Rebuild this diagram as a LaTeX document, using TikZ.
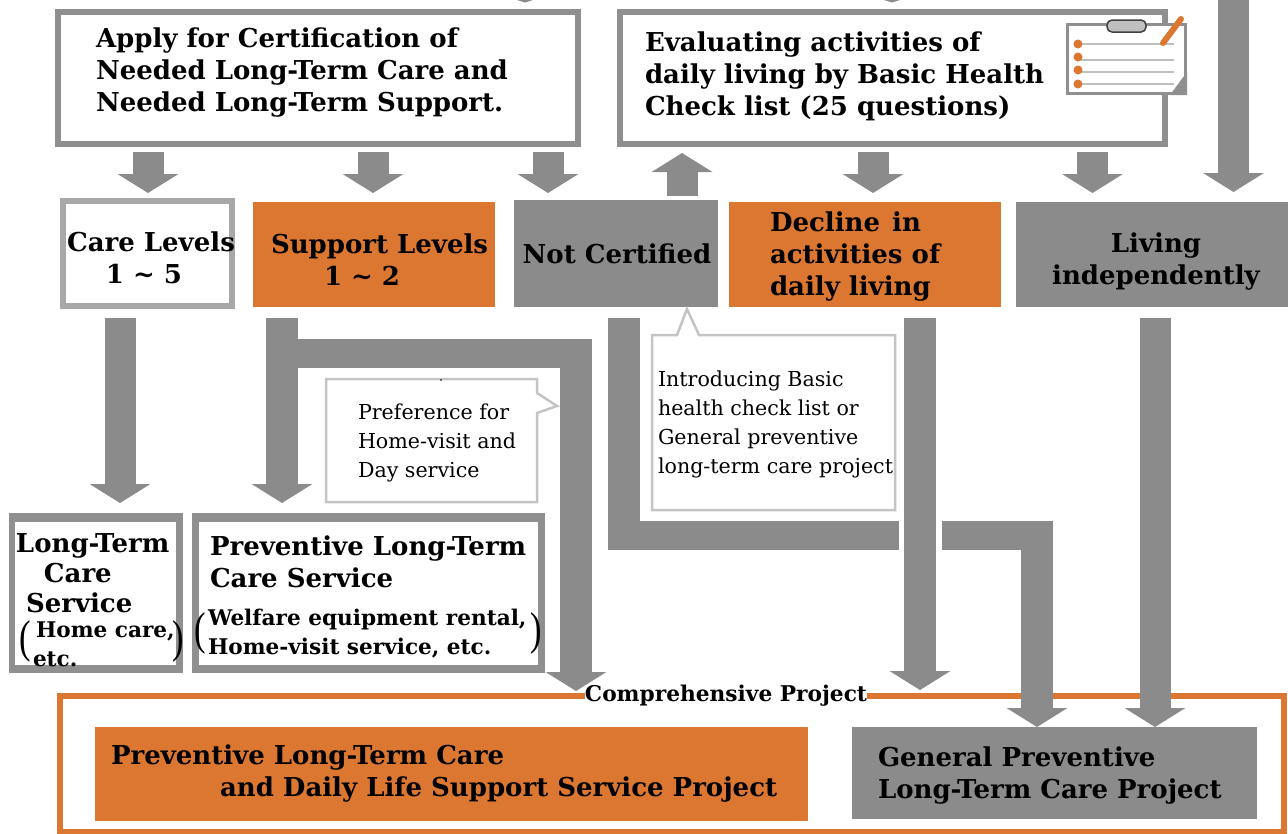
\documentclass[tikz,border=0pt]{standalone}
\usepackage{fontspec}
\setmainfont{DejaVu Serif}
\newfontfamily\parenfont{Liberation Serif}
\usetikzlibrary{arrows.meta}
\definecolor{bargray}{HTML}{8B8B8B}
\definecolor{framegray}{HTML}{8F8F8F}
\definecolor{lightframe}{HTML}{A8A8A8}
\definecolor{callgray}{HTML}{C4C4C4}
\definecolor{orangefill}{HTML}{DC7731}
\newcommand{\bigtxt}{\fontsize{26}{32}\selectfont\bfseries}
\newcommand{\midtxt}{\fontsize{21.6}{29}\selectfont\bfseries}
\newcommand{\smalltxt}{\fontsize{20.6}{29}\selectfont}
\tikzset{
  x=1pt,y=-1pt,
  heavy/.style={draw=framegray,line width=6pt,fill=white},
  flat/.style={inner sep=0pt,outer sep=0pt,text=black},
  blockshort/.style={draw=bargray,line width=31pt,-{Triangle[length=19pt,width=60pt,color=bargray]}},
  barpath/.style={draw=bargray,line width=29pt},
  words/.style={inner sep=0pt,outer sep=0pt,anchor=west,align=left,text=black,font=\bigtxt},
  centred/.style={flat,align=center,font=\bigtxt},
  midwords/.style={words,font=\midtxt},
  smallwords/.style={words,font=\smalltxt},
  brace/.style={flat,font=\parenfont\fontsize{46}{46}\selectfont,xscale=0.75},
  call/.style={draw=callgray,line width=2.5pt,fill=white,line join=miter},
}
\begin{document}
\begin{tikzpicture}
\useasboundingbox (0,0) rectangle (1288,833);
\fill[white] (0,0) rectangle (1288,833);

% cut-off arrow tips at the top edge
\fill[bargray] (517,0) -- (533,0) -- (525,2.5) -- cycle;
\fill[bargray] (884,0) -- (900,0) -- (892,2.5) -- cycle;

% top boxes
\path[heavy] (58,12) rectangle (578,144);
\path[heavy] (620,12) rectangle (1165,144);
% second row
\path[heavy,draw=lightframe] (63,201) rectangle (232,306);
\fill[orangefill] (253,202) rectangle (495,307);
\fill[bargray] (514,200) rectangle (718,307);
\fill[orangefill] (729,202) rectangle (1001,307);
\fill[bargray] (1016,202) rectangle (1288,307);
% service boxes
\fill[framegray] (9,513) rectangle (183,673);
\fill[white] (15,522) rectangle (176,665);
\fill[framegray] (192,513) rectangle (545,673);
\fill[white] (199,522) rectangle (538,665);
% comprehensive frame
\draw[orangefill,line width=6pt] (60,696) rectangle (1284,832);
\fill[orangefill] (95,727) rectangle (808,821);
\fill[bargray] (852,727) rectangle (1257,819);

% connector anchor points
\coordinate (a1) at (148,152); \coordinate (a1e) at (148,193);
\coordinate (a2) at (373,152); \coordinate (a2e) at (373,193);
\coordinate (a3) at (548,152); \coordinate (a3e) at (548,193);
\coordinate (u1) at (682,196); \coordinate (u1e) at (682,153);
\coordinate (a4) at (873,152); \coordinate (a4e) at (873,193);
\coordinate (a5) at (1092.5,152); \coordinate (a5e) at (1092.5,193);
\coordinate (a6) at (1233.5,0); \coordinate (a6e) at (1233.5,192);
\foreach \p/\q in {a1/a1e,a2/a2e,a3/a3e,u1/u1e,a4/a4e,a5/a5e,a6/a6e}
  \draw[blockshort] (\p) -- (\q);

% level-to-service arrows
\coordinate (c1) at (120,318); \coordinate (c1e) at (120,503);
\draw[blockshort] (c1) -- (c1e);
\coordinate (s1) at (282,318); \coordinate (s1e) at (282,503);
\draw[blockshort,line width=32pt] (s1) -- (s1e);
% support elbow
\coordinate (s2) at (282,353.5); \coordinate (s2c) at (592,353.5);
\coordinate (s2v) at (576,339); \coordinate (s2e) at (576,691);
\draw[barpath] (s2) -- (s2c);
\draw[blockshort,line width=32pt] (s2v) -- (s2e);
% not certified elbow, broken under the decline arrow
\coordinate (n1) at (623.5,318); \coordinate (n1c) at (623.5,550);
\coordinate (n1m) at (607.5,535.5); \coordinate (n1e) at (899,535.5);
\draw[barpath,line width=32pt] (n1) -- (n1c);
\draw[barpath] (n1m) -- (n1e);
\coordinate (n2) at (942,535.5); \coordinate (n2c) at (1053,535.5);
\coordinate (n2v) at (1037,521); \coordinate (n2e) at (1037,727);
\draw[barpath] (n2) -- (n2c);
\draw[blockshort,line width=32pt] (n2v) -- (n2e);
\coordinate (d1) at (920,318); \coordinate (d1e) at (920,690);
\draw[blockshort,line width=32pt] (d1) -- (d1e);
\coordinate (l1) at (1155,318); \coordinate (l1e) at (1155,727);
\draw[blockshort] (l1) -- (l1e);

% callouts
\draw[call] (652,335) -- (677,335) -- (687,309) -- (699,335) -- (895,335) -- (895,510) -- (652,510) -- cycle;
\draw[call] (326,379) -- (537,379) -- (537,393) -- (557,406) -- (537,413) -- (537,502) -- (326,502) -- cycle;
\fill[black] (441,380) circle (0.8pt);

% clipboard
\draw[framegray,line width=3.5pt,fill=white] (1067.5,24.5) rectangle (1185.5,93.5);
\fill[framegray] (1187,72) -- (1187,95) -- (1170,95) -- cycle;
\draw[draw=darkgray,line width=1.5pt,fill=lightgray,rounded corners=5pt] (1107,20) rectangle (1146,32);
\foreach \yy/\by in {44/44,60/57,72/70,84/84} {
  \draw[lightgray,line width=2pt] (1078,\yy) -- (1174,\yy);
  \fill[orangefill] (1078,\by) circle (4.5pt);
}
\draw[orangefill,line width=6pt,line cap=round] (1163,43) -- (1181,19);

% texts
\node[words] (tapply) at (96,73) {Apply for Certification of\\Needed Long-Term Care and\\Needed Long-Term Support.};
\node[words] (teval) at (645,76) {Evaluating activities of\\daily living by Basic Health\\Check list (25 questions)};
\node[centred] (tcare) at (151,258) {Care Levels\\\mbox{1 \textasciitilde{} 5\hspace{14pt}}};
\node[words] (tsupport) at (271,260) {Support Levels\\\hspace{53pt}1 \textasciitilde{} 2};
\node[centred] (tnot) at (617,254) {Not Certified};
\node[words] (tdecline) at (770,257) {Decline\hspace{3pt} in\\activities of\\daily living};
\node[centred] (tliving) at (1156,262) {Living\\independently};
\node[words] (tltc) at (16,573) {Long-Term\\[-2pt]\hspace{28pt}Care\\[-2pt]\hspace{10pt}Service};
\node[midwords] (tltc2) at (33,644.5) {\hspace{3pt}Home care,\\etc.};
\node[words] (tpltc) at (210,562) {Preventive Long-Term\\Care Service};
\node[midwords] (tpltc2) at (208,634) {Welfare equipment rental,\\Home-visit service, etc.};
\node[flat,fill=white,font=\fontsize{21.7}{24}\selectfont\bfseries] (tcomp) at (726,696) {Comprehensive Project};
\node[words] (tpsvc) at (111,774) {Preventive Long-Term Care\\\hspace{109pt}and Daily Life Support Service Project};
\node[words] (tgpltc) at (878,775) {General Preventive\\Long-Term Care Project};
\node[smallwords] (tpref) at (358,443) {Preference for\\Home-visit and\\Day service};
\node[smallwords] (tintro) at (658,424.5) {Introducing Basic\\health check list or\\General preventive\\long-term care project};
% parentheses
\node[brace] (pl1) at (25,641) {(};
\node[brace] (pr1) at (178,641) {)};
\node[brace] (pl2) at (200,633) {(};
\node[brace] (pr2) at (536,633) {)};
\end{tikzpicture}
\end{document}
